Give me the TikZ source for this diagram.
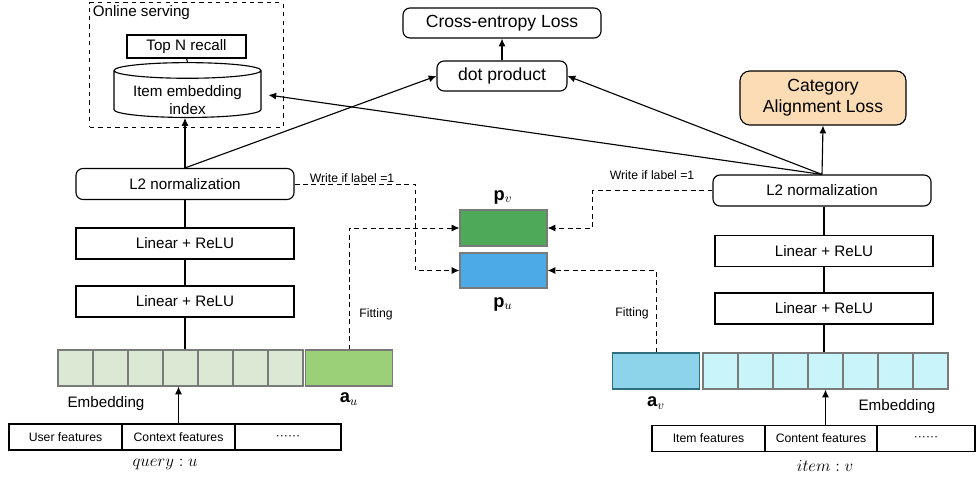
\documentclass[tikz,border=0pt]{standalone}
\usepackage{fontspec}
\setmainfont{Liberation Sans}
\usetikzlibrary{shapes.geometric, arrows.meta}

\definecolor{embgreen}{HTML}{DAE8D4}
\definecolor{augreen}{HTML}{9BCF78}
\definecolor{pvgreen}{HTML}{4EAA58}
\definecolor{publue}{HTML}{4CAAE6}
\definecolor{avblue}{HTML}{8DD4EA}
\definecolor{avedge}{HTML}{2E6E7E}
\definecolor{embcyan}{HTML}{C8F4FA}
\definecolor{calpeach}{HTML}{FBDCB4}
\definecolor{celledge}{HTML}{7A7A7A}

\begin{document}
\begin{tikzpicture}[x=0.025cm, y=-0.025cm, >={Latex[length=5.5pt,width=5pt]}, line width=0.8pt,
    every node/.style={font=\fontsize{10.8}{13}\selectfont},
    layer/.style={draw, rectangle, minimum width=5.45cm, minimum height=0.775cm, inner sep=1pt},
    normbox/.style={layer, rounded corners=5pt},
    lossbox/.style={draw, rectangle, rounded corners=5pt, minimum height=0.75cm, inner sep=1pt,
        font=\fontsize{12.5}{15}\selectfont},
    featbox/.style={draw, rectangle, minimum height=0.65cm, inner sep=1pt, font=\fontsize{8.7}{10}\selectfont},
    cellL/.style={draw=celledge, fill=embgreen, minimum width=0.875cm, minimum height=0.9cm, inner sep=0pt},
    cellR/.style={draw=celledge, fill=embcyan, minimum width=0.875cm, minimum height=0.9cm, inner sep=0pt},
    vecbox/.style={draw=celledge, minimum width=2.175cm, minimum height=0.9cm, inner sep=0pt},
    small/.style={font=\fontsize{8.7}{10}\selectfont},
    mathlab/.style={font=\fontsize{13}{15}\selectfont},
    dashline/.style={dashed, dash pattern=on 3.5pt off 2.5pt, line width=0.7pt}]
\useasboundingbox (0,0) rectangle (977,481);

% online serving part
\node[draw, dashed, line width=0.7pt, minimum width=4.825cm, minimum height=3.1cm] (serve) at (186.5,65) {};
\node[anchor=north west, inner sep=2pt] (servetxt) at (serve.north west) {Online serving};
\node[draw, minimum width=2.975cm, minimum height=0.575cm, inner sep=1pt] (topn) at (186.5,46.5) {Top N recall};
\node[draw, cylinder, shape border rotate=90, aspect=0.14, minimum width=3.675cm, minimum height=1.25cm,
    inner sep=1pt, fill=white] (index) at (187.5,95)
    {\raisebox{-3.5pt}[\height][\depth]{\shortstack{Item embedding\\index}}};
\draw (topn.south) -- (index.north);

% query tower
\node[normbox] (l2u) at (185,184) {L2 normalization};
\node[layer] (lin1u) at (185,243.5) {Linear + ReLU};
\node[layer] (lin2u) at (185,301.5) {Linear + ReLU};
\foreach \i in {0,...,6}
    \node[cellL] (cu\i) at ({75.5+35*\i},368) {};
\node[vecbox, fill=augreen] (au) at (349,368) {};
\node[featbox, minimum width=2.825cm] (userf) at (65.5,437) {User features};
\node[featbox, minimum width=2.825cm] (ctxf) at (178.5,437) {Context features};
\node[featbox, minimum width=2.65cm] (morel) at (288,437) {\textperiodcentered\textperiodcentered\textperiodcentered\textperiodcentered\textperiodcentered\textperiodcentered};
\node (embu) at (106,404) {Embedding};
\node[mathlab] (query) at (165,464) {$query:u$};
\node[mathlab] (aulab) at (349,399) {$\mathbf{a}_u$};
\draw (l2u) -- (lin1u);
\draw (lin1u) -- (lin2u);
\draw (lin2u.south) -- (lin2u.south |- cu3.north);
\draw[->] (ctxf.north) -- (ctxf.north |- cu3.south);
\draw[->] (l2u.north) -- (l2u.north |- index.south);

% middle part
\node[lossbox, minimum width=4.95cm] (ce) at (502,23) {Cross-entropy Loss};
\node[lossbox, minimum width=3.25cm] (dot) at (502,76) {dot product};
\node[vecbox, fill=pvgreen] (pv) at (503.5,228) {};
\node[vecbox, fill=publue, minimum height=0.875cm] (pu) at (503.5,270.5) {};
\node[mathlab] (pvlab) at (503,197) {$\mathbf{p}_v$};
\node[mathlab] (pulab) at (503,304) {$\mathbf{p}_u$};
\draw[->] (dot) -- (ce);
\draw[->] (l2u.north) -- (dot.west);

% item tower
\node[lossbox, fill=calpeach, minimum width=4.15cm, minimum height=1.35cm, rounded corners=7pt,
    align=center] (cal) at (823,98) {Category\\Alignment Loss};
\node[normbox] (l2v) at (822,190.5) {L2 normalization};
\node[layer] (lin1v) at (824,251) {Linear + ReLU};
\node[layer] (lin2v) at (824,308.5) {Linear + ReLU};
\foreach \i in {0,...,6}
    \node[cellR] (cv\i) at ({720.5+35*\i},371) {};
\node[vecbox, draw=avedge, fill=avblue] (av) at (656,371) {};
\node[featbox, minimum width=2.825cm] (itemf) at (708.5,438.5) {Item features};
\node[featbox, minimum width=2.8cm] (contf) at (821,438.5) {Content features};
\node[featbox, minimum width=2.45cm] (morer) at (926,438.5) {\textperiodcentered\textperiodcentered\textperiodcentered\textperiodcentered\textperiodcentered\textperiodcentered};
\node (embv) at (897,407) {Embedding};
\node[mathlab] (itemlab) at (825,466) {$item:v$};
\node[mathlab] (avlab) at (656,403) {$\mathbf{a}_v$};
\draw (l2v.south -| lin1v) -- (lin1v);
\draw (lin1v) -- (lin2v);
\draw (lin2v.south) -- (lin2v.south |- cv3.north);
\draw[->] (cv3.south |- contf.north) -- (cv3.south);
\draw[->] (l2v.north) -- (cal.south);
\draw[->] (l2v.north) -- (dot.east);
\draw[->] (l2v.north) -- ([xshift=0.17cm]index.east);

% write / fitting
\draw[dashline, ->] (l2u.east) -- ++(121,0) |- (pu.west);
\draw[dashline, ->] (au.north) |- (pv.west);
\draw[dashline, ->] (l2v.west) -- ++(-120,0) |- (pv.east);
\draw[dashline, ->] (av.north) |- (pu.east);
\node[small] (writeu) at (352,178) {Write if label =1};
\node[small] (writev) at (652,175) {Write if label =1};
\node[small] (fitu) at (376,314) {Fitting};
\node[small] (fitv) at (632,313) {Fitting};
\end{tikzpicture}
\end{document}
